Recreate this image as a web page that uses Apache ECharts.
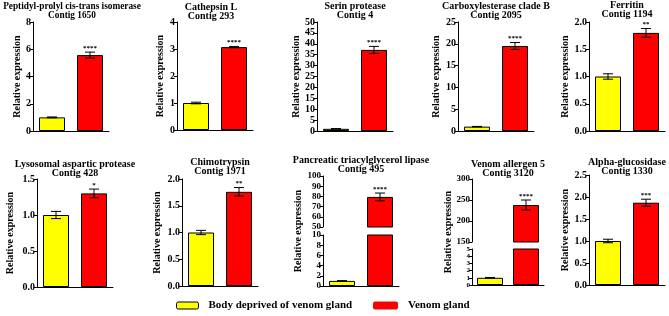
<!DOCTYPE html>
<html>
<head>
<meta charset="utf-8">
<script src="https://cdn.jsdelivr.net/npm/echarts@6/dist/echarts.min.js"></script>
<style>
html, body { margin: 0; padding: 0; background: #fff; }
#main { width: 669px; height: 316px; }
</style>
</head>
<body>
<div id="main"></div>
<script>
// genes, left to right, top row first
var geneNames = ['Peptidyl-prolyl cis-trans isomerase', 'Cathepsin L', 'Serin protease', 'Carboxylesterase clade B', 'Ferritin',
  'Lysosomal aspartic protease', 'Chimotrypsin', 'Pancreatic triacylglycerol lipase', 'Venom allergen 5', 'Alpha-glucosidase'];
var contigs = ['Contig 1650', 'Contig 293', 'Contig 4', 'Contig 2095', 'Contig 1194',
  'Contig 428', 'Contig 1971', 'Contig 495', 'Contig 3120', 'Contig 1330'];
var groups = ['Body deprived of venom gland', 'Venom gland'];

var bodyMean = [1.0, 1.0, 1.0, 1.0, 1.0, 1.0, 1.0, 1.0, 1.0, 1.0];
var bodyErr = [0.03, 0.03, 0.1, 0.05, 0.05, 0.05, 0.04, 0.05, 0.05, 0.04];
var venomMean = [5.57, 3.07, 37.2, 19.5, 1.80, 1.30, 1.76, 79.5, 238, 1.87];
var venomErr = [0.22, 0.02, 1.6, 0.8, 0.08, 0.06, 0.08, 3.8, 12, 0.08];
var stars = ['****', '****', '****', '****', '**', '*', '**', '****', '****', '***'];

// y ticks [min, max, step]; broken axes get a lower and an upper part
var yTicks = [[0, 8, 2], [0, 4, 1], [0, 50, 5], [0, 25, 5], [0, 2, 0.5],
  [0, 1.5, 0.5], [0, 2, 0.5], [0, 10, 2], [0, 5, 1], [0, 2.5, 0.5]];
var yTicksUpper = { 7: [50, 100, 10], 8: [150, 300, 50] };

var FONT = 'Liberation Serif';

// panel boxes (px)
var boxes = [
  { left: 33, top: 22, width: 76, height: 109, gap: 11, tt: 2.5, tx: 1, ts: 9.3 },
  { left: 177, top: 22, width: 76, height: 108, gap: 12, tt: 2.5, tx: -4 },
  { left: 317, top: 22, width: 76, height: 109, gap: 16, tt: 1.5 },
  { left: 458, top: 22, width: 76, height: 109, gap: 17, tt: 1.5 },
  { left: 589, top: 22, width: 76, height: 109, gap: 18, tt: 0.5 },
  { left: 37, top: 179, width: 76, height: 108, gap: 22, tt: 160 },
  { left: 182, top: 179, width: 76, height: 107, gap: 20, tt: 157.5 },
  { left: 323, top: 176, width: 76, height: 110, gap: 20, tt: 155.5, split: [51, 8], fs: [9, 9] },
  { left: 472, top: 179, width: 72, height: 106, gap: 19, tt: 159.5, split: [63, 7], fs: [9, 7] },
  { left: 589, top: 175, width: 76, height: 110, gap: 17, tt: 157.5 }
];

var grids = [], xAxes = [], yAxes = [], series = [], titles = [];

function fmt(step) {
  return function (v) { return step < 1 ? v.toFixed(1) : String(v); };
}

function errRenderer(i) {
  return function (params, api) {
    var x = api.value(0), m = api.value(1), e = api.value(2);
    var hi = api.coord([x, m + e]), lo = api.coord([x, m - e]);
    var cap = 5;
    var ls = { stroke: '#000', lineWidth: 1 };
    var kids = [
      { type: 'line', shape: { x1: hi[0], y1: hi[1], x2: lo[0], y2: lo[1] }, style: ls },
      { type: 'line', shape: { x1: hi[0] - cap, y1: hi[1], x2: hi[0] + cap, y2: hi[1] }, style: ls },
      { type: 'line', shape: { x1: lo[0] - cap, y1: lo[1], x2: lo[0] + cap, y2: lo[1] }, style: ls }
    ];
    if (x === 1) {
      kids.push({ type: 'text', x: hi[0], y: hi[1] - 0.5,
        style: { text: stars[i], align: 'center', verticalAlign: 'bottom', font: 'bold 7px "' + FONT + '"', fill: '#000' } });
    }
    return { type: 'group', children: kids };
  };
}

function addPart(i, rect, tick, showX, fs, name, gap) {
  var g = grids.length;
  grids.push({ left: rect.left, top: rect.top, width: rect.width, height: rect.height, containLabel: false });
  xAxes.push({
    type: 'category', gridIndex: g, data: groups, show: showX,
    axisLine: { lineStyle: { color: '#000', width: 1 } },
    axisTick: { alignWithLabel: true, length: 3, lineStyle: { color: '#000' } },
    axisLabel: { show: false }, splitLine: { show: false }
  });
  yAxes.push({
    type: 'value', gridIndex: g, min: tick[0], max: tick[1], interval: tick[2],
    name: name, nameLocation: 'middle', nameGap: gap,
    nameTextStyle: { fontFamily: FONT, fontWeight: 'bold', fontSize: 10, color: '#000' },
    axisLine: { show: true, lineStyle: { color: '#000', width: 1 } },
    axisTick: { show: true, length: 3, lineStyle: { color: '#000' } },
    axisLabel: { fontFamily: FONT, fontWeight: 'bold', fontSize: fs, color: '#000', margin: 2, formatter: fmt(tick[2]) },
    splitLine: { show: false }
  });
  series.push({
    type: 'bar', name: groups[0], xAxisIndex: g, yAxisIndex: g, barWidth: 26, barGap: '-100%', clip: true,
    data: [bodyMean[i], '-'],
    itemStyle: { color: '#ffff00', borderColor: '#000', borderWidth: 1 }
  });
  series.push({
    type: 'bar', name: groups[1], xAxisIndex: g, yAxisIndex: g, barWidth: 26, barGap: '-100%', clip: true,
    data: ['-', venomMean[i]],
    itemStyle: { color: '#ff0000', borderColor: '#000', borderWidth: 1 }
  });
  var errs = [];
  if (bodyMean[i] > tick[0] && bodyMean[i] < tick[1]) errs.push([0, bodyMean[i], bodyErr[i]]);
  if (venomMean[i] > tick[0] && venomMean[i] < tick[1]) errs.push([1, venomMean[i], venomErr[i]]);
  series.push({
    type: 'custom', xAxisIndex: g, yAxisIndex: g, renderItem: errRenderer(i), data: errs, z: 5, silent: true
  });
}

boxes.forEach(function (b, i) {
  titles.push({
    text: geneNames[i] + '\n' + contigs[i], left: b.left + b.width / 2 + (b.tx || 0), top: b.tt, textAlign: 'center', padding: 0,
    textStyle: { fontFamily: FONT, fontWeight: 'bold', fontSize: b.ts || 10, lineHeight: 9, color: '#000' }
  });
  if (!b.split) {
    addPart(i, b, yTicks[i], true, 10, 'Relative expression', b.gap);
  } else {
    var up = { left: b.left, top: b.top, width: b.width, height: b.split[0] };
    var lowTop = b.top + b.split[0] + b.split[1];
    var low = { left: b.left, top: lowTop, width: b.width, height: b.top + b.height - lowTop };
    addPart(i, up, yTicksUpper[i], false, b.fs[0], '', 0);
    addPart(i, low, yTicks[i], true, b.fs[1], '', 0);
    // invisible axis carrying the name across both parts
    var g = grids.length;
    grids.push({ left: b.left, top: b.top, width: b.width, height: b.height });
    xAxes.push({ type: 'category', gridIndex: g, show: false, data: groups });
    yAxes.push({
      type: 'value', gridIndex: g, min: 0, max: 1, name: 'Relative expression', nameLocation: 'middle', nameGap: b.gap,
      nameTextStyle: { fontFamily: FONT, fontWeight: 'bold', fontSize: 10, color: '#000' },
      axisLine: { show: false }, axisTick: { show: false }, axisLabel: { show: false }, splitLine: { show: false }
    });
  }
});

var legendText = { fontFamily: FONT, fontWeight: 'bold', fontSize: 11, color: '#000', padding: [0, 0, 0, 5] };
var chart = echarts.init(document.getElementById('main'));
chart.setOption({
  animation: false,
  backgroundColor: '#fff',
  title: titles,
  grid: grids,
  xAxis: xAxes,
  yAxis: yAxes,
  legend: [
    { data: [groups[0]], left: 176, top: 300, padding: 0, itemWidth: 22, itemHeight: 7, textStyle: legendText,
      itemStyle: { borderColor: '#000', borderWidth: 1 } },
    { data: [groups[1]], left: 373, top: 300, padding: 0, itemWidth: 25, itemHeight: 8, textStyle: legendText,
      itemStyle: { borderColor: '#ff0000', borderWidth: 0 } }
  ],
  series: series
});
</script>
</body>
</html>
